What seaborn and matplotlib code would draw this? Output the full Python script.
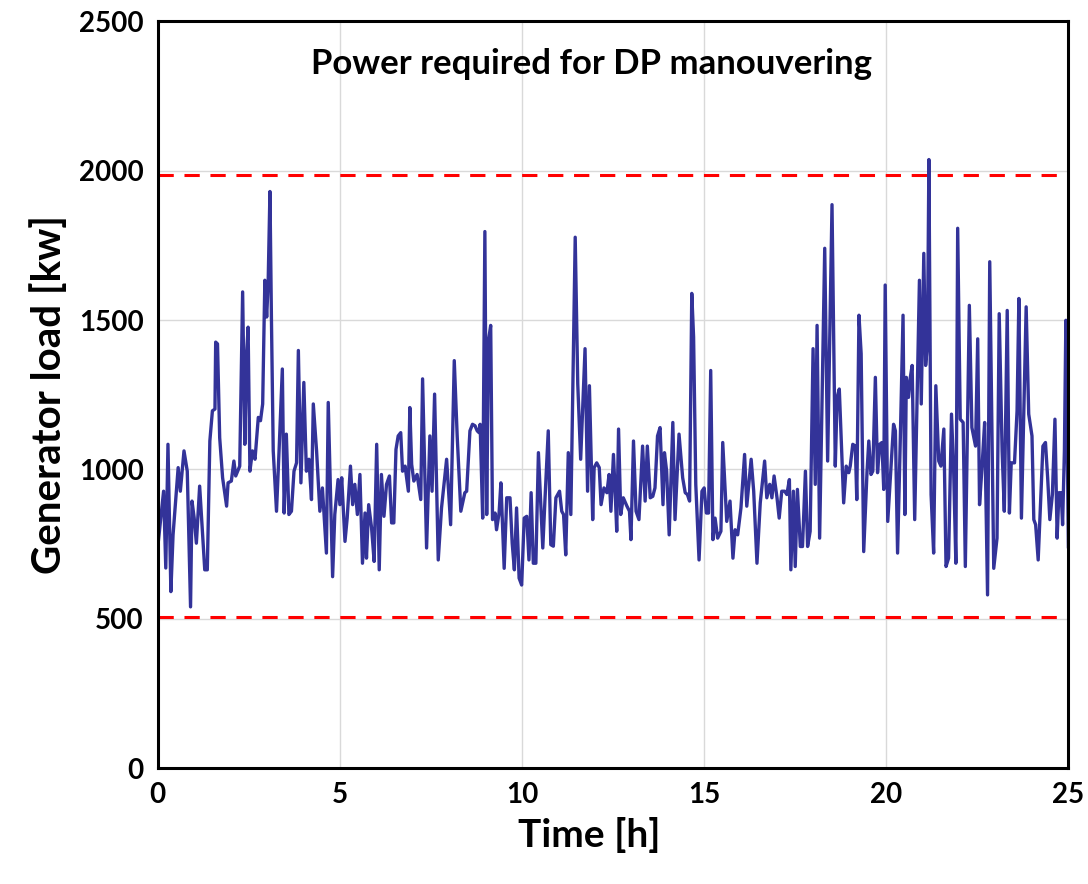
import numpy as np
import pandas as pd
import matplotlib
matplotlib.use("Agg")
import matplotlib.pyplot as plt
import seaborn as sns

# time [h] and generator load [kW]
time_h = [
    0.00, 0.16, 0.22, 0.28, 0.36, 0.42, 0.56, 0.62, 0.72, 0.81, 0.90, 0.94, 1.00, 1.06, 1.15,
    1.29, 1.36, 1.43, 1.50, 1.57, 1.59, 1.64, 1.70, 1.78, 1.89, 1.93, 2.02, 2.09, 2.14, 2.25,
    2.33, 2.39, 2.44, 2.48, 2.53, 2.60, 2.67, 2.76, 2.82, 2.88, 2.94, 2.99, 3.03, 3.08, 3.12,
    3.17, 3.26, 3.33, 3.42, 3.47, 3.53, 3.60, 3.67, 3.74, 3.81, 3.86, 3.93, 4.01, 4.08, 4.15,
    4.22, 4.27, 4.36, 4.45, 4.52, 4.63, 4.68, 4.80, 4.86, 4.95, 5.00,
    5.05, 5.09, 5.14, 5.20, 5.29, 5.35, 5.41, 5.48, 5.55, 5.62, 5.69, 5.73, 5.79, 5.87, 5.94,
    6.01, 6.08, 6.14, 6.21, 6.28, 6.36, 6.42, 6.48, 6.54, 6.60, 6.67, 6.72, 6.79, 6.88, 6.92,
    6.97, 7.03, 7.12, 7.22, 7.27, 7.38, 7.47, 7.53, 7.60, 7.70, 7.79, 7.93, 8.04, 8.14, 8.22,
    8.32, 8.43, 8.48, 8.57, 8.64, 8.71, 8.77, 8.82, 8.85, 8.92, 8.98, 9.03, 9.08, 9.14, 9.19,
    9.26, 9.30, 9.37, 9.42, 9.51, 9.58, 9.67, 9.73, 9.79, 9.85, 9.92, 9.99, 10.06, 10.13, 10.19,
    10.25, 10.31, 10.38, 10.45,
    10.57, 10.63, 10.72, 10.79, 10.86, 10.93, 11.03, 11.09, 11.14, 11.20, 11.27, 11.34, 11.46,
    11.53, 11.61, 11.73, 11.80, 11.85, 11.94, 11.98, 12.05, 12.12, 12.17, 12.25, 12.33, 12.39,
    12.44, 12.51, 12.56, 12.60, 12.65, 12.71, 12.78, 12.88, 12.95, 12.99, 13.06, 13.13, 13.21,
    13.31, 13.38, 13.44, 13.52, 13.59, 13.65, 13.72, 13.79, 13.87, 13.91, 13.97, 14.04, 14.14,
    14.20, 14.31, 14.41, 14.48, 14.54, 14.60, 14.66, 14.71, 14.77, 14.86, 14.94, 15.00, 15.06,
    15.12, 15.18, 15.24, 15.30, 15.37, 15.46, 15.51,
    15.62, 15.71, 15.79, 15.85, 15.92, 16.01, 16.11, 16.17, 16.29, 16.36, 16.45, 16.54, 16.66,
    16.72, 16.80, 16.86, 16.92, 17.00, 17.06, 17.13, 17.21, 17.27, 17.34, 17.38, 17.45, 17.50,
    17.56, 17.64, 17.70, 17.78, 17.84, 17.91, 17.99, 18.05, 18.10, 18.17, 18.31, 18.39, 18.51,
    18.60, 18.65, 18.71, 18.83, 18.90, 18.97, 19.01, 19.08, 19.15, 19.19, 19.25, 19.31, 19.38,
    19.47, 19.52, 19.58, 19.63, 19.70, 19.76, 19.82, 19.88, 19.93, 19.97, 20.04, 20.13, 20.20,
    20.25, 20.31, 20.39,
    20.46, 20.51, 20.55, 20.61, 20.66, 20.71, 20.78, 20.91, 20.96, 21.03, 21.08, 21.13, 21.17,
    21.23, 21.30, 21.36, 21.44, 21.50, 21.58, 21.64, 21.71, 21.79, 21.85, 21.91, 21.96, 22.03,
    22.11, 22.17, 22.28, 22.35, 22.45, 22.51, 22.56, 22.63, 22.70, 22.78, 22.84, 22.90, 22.95,
    23.04, 23.10, 23.18, 23.24, 23.32, 23.38, 23.43, 23.52, 23.59, 23.64, 23.71, 23.84, 23.91,
    24.00, 24.05, 24.10, 24.17, 24.30, 24.37, 24.43, 24.49, 24.56, 24.63, 24.69, 24.74, 24.80,
    24.84, 24.89, 24.93, 25.00,
]

load_kw = [
    740, 927, 670, 1084, 591, 781, 1006, 927, 1062, 994, 540, 894, 837, 753, 944,
    664, 664, 1095, 1196, 1202, 1426, 1420, 1106, 972, 877, 955, 961, 1028, 978, 1011,
    1594, 1084, 1387, 1476, 994, 1062, 1034, 1174, 1163, 1219, 1633, 1510, 1622, 1930, 1510,
    1062, 860, 1062, 1336, 854, 1118, 849, 860, 994, 1022, 1398, 955, 1291, 994, 1034,
    899, 1219, 1062, 860, 938, 720, 1224, 641, 849, 966, 882,
    972, 877, 759, 837, 1011, 882, 950, 849, 983, 686, 854, 703, 882, 804, 692,
    1084, 664, 983, 843, 950, 978, 821, 821, 1067, 1112, 1123, 994, 1011, 927, 1207,
    1017, 961, 983, 899, 1303, 737, 1112, 927, 1252, 697, 871, 1034, 815, 1364, 1112,
    860, 922, 927, 1129, 1151, 1146, 1129, 1123, 1151, 837, 1796, 849, 1432, 1482, 832,
    854, 798, 854, 955, 669, 905, 905, 753, 664, 871, 636, 613, 837, 843, 697,
    922, 686, 686, 1056,
    737, 899, 1129, 748, 743, 905, 927, 860, 849, 714, 1056, 849, 1777,
    1286, 1034, 1404, 927, 1280, 832, 1006, 1022, 1006, 882, 938, 922, 983,
    860, 1050, 916, 793, 1135, 849, 905, 877, 860, 765, 1095, 860, 832,
    1078, 894, 1078, 905, 910, 938, 1112, 1140, 882, 1056, 994, 781, 1157,
    832, 1118, 972, 922, 916, 894, 1589, 1443, 950, 697, 927, 938, 854,
    854, 1331, 765, 837, 770, 793, 1090,
    826, 894, 703, 798, 781, 871, 1050, 877, 1034, 927, 686, 888, 1028,
    905, 950, 905, 978, 905, 837, 927, 927, 916, 966, 664, 927, 675,
    933, 742, 742, 994, 742, 793, 1404, 950, 1482, 770, 1740, 1028, 1886,
    1011, 1241, 1269, 888, 1011, 989, 1011, 1084, 1078, 899, 1516, 1387, 725,
    989, 1095, 983, 994, 1308, 989, 1084, 1090, 933, 1617, 826, 1006, 1151,
    1129, 720, 1129,
    1516, 849, 1308, 1241, 1308, 1348, 832, 1633, 1219, 1723, 1348, 1420, 2037,
    916, 720, 1280, 1028, 1011, 1135, 675, 703, 1185, 994, 686, 1807, 1168,
    1157, 675, 1549, 1140, 1078, 1437, 882, 1011, 1157, 580, 1695, 1140, 669,
    770, 1521, 1062, 860, 1532, 854, 1022, 1022, 1196, 1572, 837, 1544, 1185,
    1112, 832, 815, 697, 1078, 1090, 972, 832, 916, 1168, 770, 922, 922,
    815, 1062, 1499, 737,
]

limits_kw = [1985, 505]
x_ticks = [0, 5, 10, 15, 20, 25]
y_ticks = [0, 500, 1000, 1500, 2000, 2500]

df = pd.DataFrame({"time": time_h, "load": load_kw})

sns.set_style("white")
plt.rcParams["font.family"] = ["Lato", "DejaVu Sans"]
plt.rcParams["text.color"] = "black"
plt.rcParams["axes.labelcolor"] = "black"
plt.rcParams["xtick.color"] = "black"
plt.rcParams["ytick.color"] = "black"

fig = plt.figure(figsize=(10.88, 8.84), dpi=100)
ax = fig.add_axes([0.145, 0.131, 0.837, 0.845])

ax.grid(True, color="#d9d9d9", linewidth=1)
ax.set_axisbelow(True)

sns.lineplot(data=df, x="time", y="load", ax=ax, color="#333399",
             linewidth=2.4, estimator=None, sort=False)

for lim in limits_kw:
    ax.axhline(lim, color="#ff0000", linewidth=2.2, linestyle=(0, (5, 3.5)))

ax.set_xlim(0, 25)
ax.set_ylim(0, 2500)
ax.set_xticks(x_ticks)
ax.set_yticks(y_ticks)
ax.tick_params(length=0, labelsize=20, pad=10)
for lbl in ax.get_xticklabels() + ax.get_yticklabels():
    lbl.set_fontweight("bold")

ax.set_xlabel("Time [h]", fontsize=28, fontweight="bold", labelpad=8)
ax.set_ylabel("Generator load [kw]", fontsize=29, fontweight="bold", labelpad=8)
ax.xaxis.set_label_coords(0.474, -0.066)

ax.text(0.476, 0.943, "Power required for DP manouvering", transform=ax.transAxes,
        ha="center", va="center", fontsize=25, fontweight="bold")

for side in ["left", "top", "right", "bottom"]:
    ax.spines[side].set_visible(True)
    ax.spines[side].set_color("black")
    ax.spines[side].set_linewidth(2.2)

fig.savefig("out.png", dpi=100)
